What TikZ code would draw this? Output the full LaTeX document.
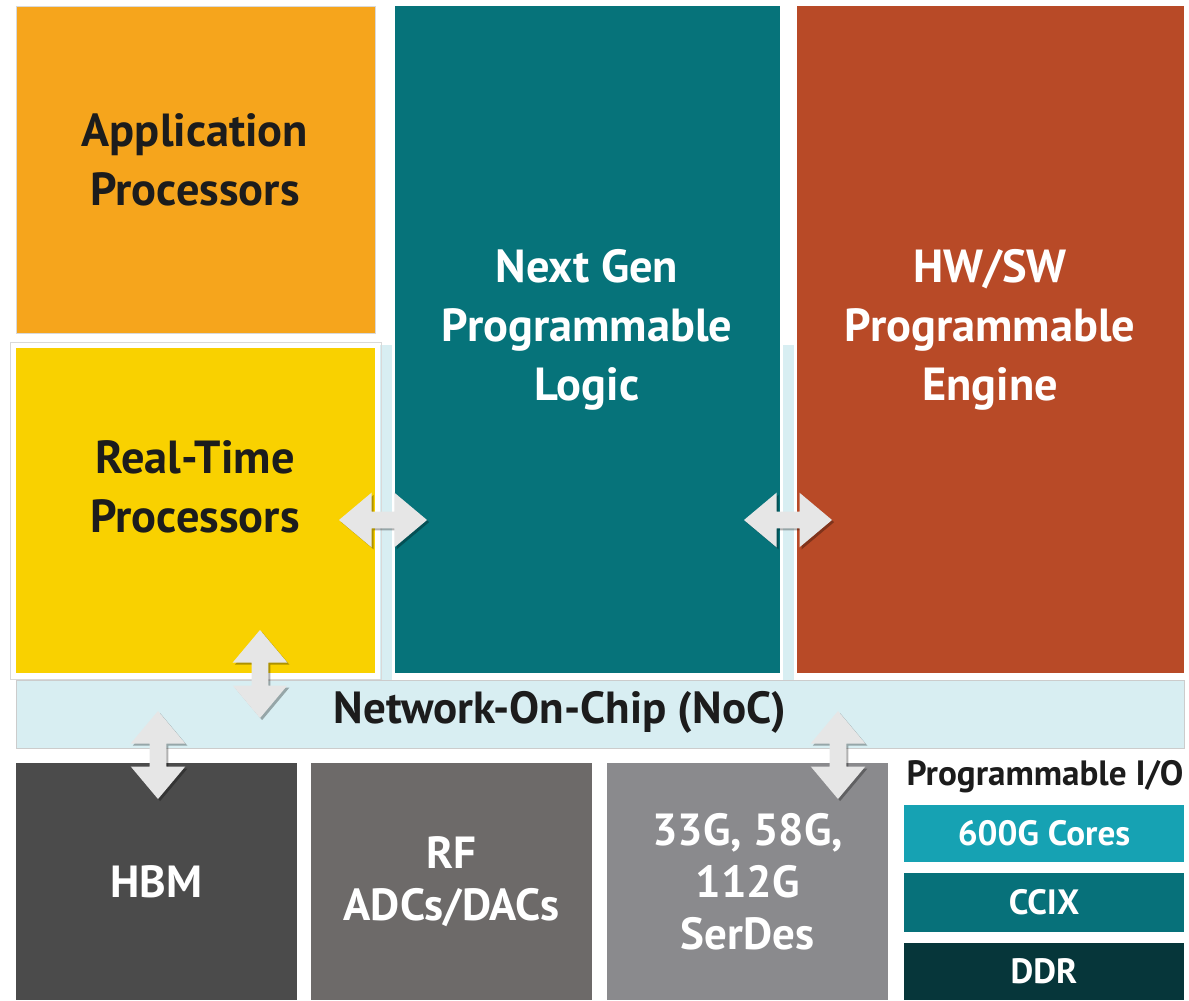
\documentclass[tikz,border=0pt]{standalone}
\usepackage{fontspec}
\setmainfont{PT Sans}
\usetikzlibrary{shapes.arrows,shadows}

\definecolor{apporange}{HTML}{F6A51C}
\definecolor{rtyellow}{HTML}{F9D100}
\definecolor{plteal}{HTML}{06737A}
\definecolor{engrust}{HTML}{B84A27}
\definecolor{noclight}{HTML}{D8EEF2}
\definecolor{hbmgray}{HTML}{4B4B4B}
\definecolor{rfgray}{HTML}{6D6A69}
\definecolor{serdesgray}{HTML}{8A8A8D}
\definecolor{coresblue}{HTML}{16A2B3}
\definecolor{ccixteal}{HTML}{07717A}
\definecolor{ddrdark}{HTML}{06363A}
\definecolor{arrowgray}{HTML}{E6E6E6}
\definecolor{txtdark}{HTML}{1C1C1C}

\newcommand{\pxu}{0.025cm}

\tikzset{
  blk/.style={inner sep=0pt, draw=none},
  bigtxt/.style={align=center, font=\bfseries\fontsize{33}{42}\selectfont},
  midtxt/.style={align=center, font=\bfseries\fontsize{32}{37}\selectfont},
  smalltxt/.style={align=center, font=\bfseries\fontsize{25}{28}\selectfont},
  dblarrow/.style={double arrow, fill=arrowgray, inner xsep=0pt, inner ysep=0.2cm,
    text height=0pt, text depth=0pt, double arrow head extend=0.475cm,
    double arrow tip angle=80, minimum height=2.2cm,
    drop shadow={shadow xshift=1.5pt, shadow yshift=-1.5pt, opacity=.3, fill=black}}
}

\begin{document}
\begin{tikzpicture}[x=\pxu, y=-\pxu]
\useasboundingbox[fill=white] (0,0) rectangle (1189,1000);

	% light blue network behind the blocks
	\fill[noclight] (380,345) rectangle (392,680);
	\fill[noclight] (783,345) rectangle (794,680);
	\node[blk, fill=noclight, draw=black!20, minimum width=1168*\pxu, minimum height=68*\pxu] (noc) at (600,714) {};
	\node[midtxt, text=txtdark] (noctxt) at (560,712) {Network-On-Chip (NoC)};

	% upper blocks
	\node[blk, fill=apporange, draw=black!15, minimum width=359*\pxu, minimum height=327*\pxu] (app) at (195.5,169.5) {};
	\node[bigtxt, text=txtdark] (apptxt) at (195,160) {Application\\Processors};

	\draw[black!15] (10,342) rectangle (381,679);
	\node[blk, fill=rtyellow, minimum width=359*\pxu, minimum height=325*\pxu] (rt) at (195.5,510.5) {};
	\node[bigtxt, text=txtdark] (rttxt) at (195,487) {Real-Time\\Processors};

	\node[blk, fill=plteal, minimum width=385*\pxu, minimum height=667*\pxu] (ngl) at (587.5,339.5) {};
	\node[bigtxt, text=white] (ngltxt) at (587,330) {Next Gen\\Programmable\\Logic};

	\node[blk, fill=engrust, minimum width=387*\pxu, minimum height=667*\pxu] (hwsw) at (990.5,339.5) {};
	\node[bigtxt, text=white] (hwswtxt) at (990,330) {HW/SW\\Programmable\\Engine};

	% lower blocks
	\node[blk, fill=hbmgray, minimum width=281*\pxu, minimum height=237*\pxu, midtxt, text=white] (hbm) at (156.5,881.5) {HBM};
	\node[blk, fill=rfgray, minimum width=281*\pxu, minimum height=237*\pxu, midtxt, text=white] (rf) at (451.5,881.5) {RF\\ADCs/DACs};
	\node[blk, fill=serdesgray, minimum width=281*\pxu, minimum height=237*\pxu, midtxt, text=white] (serdes) at (747.5,881.5) {33G, 58G,\\112G\\SerDes};

	\node[smalltxt, text=txtdark] (pio) at (1045,777) {Programmable I/O};
	\node[blk, fill=coresblue, minimum width=280*\pxu, minimum height=57*\pxu, smalltxt, text=white] (cores) at (1044,833.5) {600G Cores};
	\node[blk, fill=ccixteal, minimum width=280*\pxu, minimum height=59*\pxu, smalltxt, text=white] (ccix) at (1044,902.5) {CCIX};
	\node[blk, fill=ddrdark, minimum width=280*\pxu, minimum height=57*\pxu, smalltxt, text=white] (ddr) at (1044,971.5) {DDR};

	% links
	\node[dblarrow] (rtlink) at (383,520) {};
	\node[dblarrow] (englink) at (788,520) {};
	\node[dblarrow, rotate=90] (noclink) at (260,674) {};
	\node[dblarrow, rotate=90] (hbmlink) at (158,755) {};
	\node[dblarrow, rotate=90] (serdeslink) at (838,755) {};

\end{tikzpicture}
\end{document}
